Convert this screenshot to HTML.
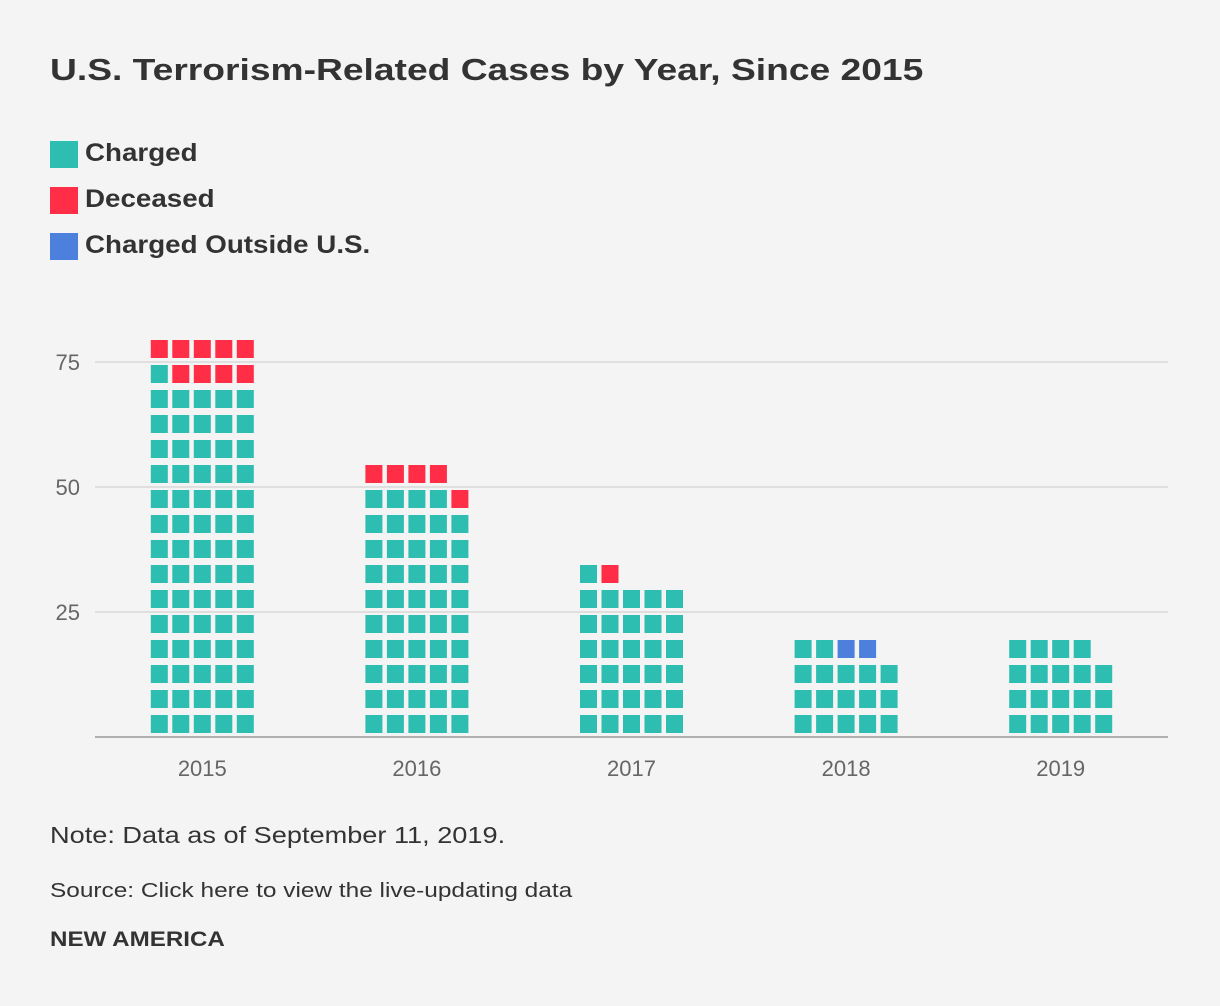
<!DOCTYPE html>
<html><head><meta charset="utf-8"><style>
body{margin:0;background:#f4f4f4;font-family:"Liberation Sans",sans-serif;}
#wrap{position:relative;width:1220px;height:1006px;background:#f4f4f4;}
.t{position:absolute;color:#333;white-space:nowrap;transform-origin:0 50%;}
</style></head><body>
<div id="wrap">
<div class="t" style="left:50px;top:52px;font-size:31px;font-weight:bold;transform:scaleX(1.2);">U.S. Terrorism-Related Cases by Year, Since 2015</div>
<div><div style="position:absolute;left:50px;top:141px;width:28px;height:27px;background:#2ebdb1"></div><div class="t" style="left:85px;top:139px;font-size:25px;font-weight:bold;transform:scaleX(1.11);">Charged</div></div>
<div><div style="position:absolute;left:50px;top:187px;width:28px;height:27px;background:#ff2d46"></div><div class="t" style="left:85px;top:185px;font-size:25px;font-weight:bold;transform:scaleX(1.11);">Deceased</div></div>
<div><div style="position:absolute;left:50px;top:233px;width:28px;height:27px;background:#4c80dc"></div><div class="t" style="left:85px;top:231px;font-size:25px;font-weight:bold;transform:scaleX(1.11);">Charged Outside U.S.</div></div>
<svg id="plot" width="1220" height="1006" style="position:absolute;left:0;top:0"></svg>
<div class="t" style="left:50px;top:822px;font-size:23px;transform:scaleX(1.18);">Note: Data as of September 11, 2019.</div>
<div class="t" style="left:50px;top:880px;font-size:20px;transform:scaleX(1.22);">Source: Click here to view the live-updating data</div>
<div class="t" style="left:50px;top:928px;font-size:21px;font-weight:bold;transform:scaleX(1.15);">NEW AMERICA</div>
</div>
<script>
const years=["2015","2016","2017","2018","2019"];
const charged=[71,49,31,17,19];
const deceased=[9,5,1,0,0];
const outside=[0,0,0,2,0];
const yTicks=[25,50,75];
const NS="http://www.w3.org/2000/svg";
const svg=document.getElementById('plot');
const x0=95,x1=1168,yBase=737,pxPerUnit=5;
const band=(x1-x0)/years.length;
const y=v=>yBase-v*pxPerUnit;
const cx=i=>x0+band*(i+0.5);
function mk(t,a){const e=document.createElementNS(NS,t);for(const k in a)e.setAttribute(k,a[k]);svg.appendChild(e);return e;}
yTicks.forEach(v=>{
 const l=mk('line',{x1:x0,x2:x1,y1:y(v),y2:y(v),stroke:'#d8d8d8','stroke-width':1.5});
 
 
 const t=mk('text',{x:80,y:y(v)+8,'text-anchor':'end','font-size':22,fill:'#666','font-family':'Liberation Sans, sans-serif'});
 t.textContent=v;
 
 
});
const colors=['#2ebdb1','#ff2d46','#4c80dc'];
years.forEach((yr,i)=>{
 const counts=[charged[i],deceased[i],outside[i]];
 let idx=0;
 const left=cx(i)-51.5;
 counts.forEach((n,s)=>{
  for(let k=0;k<n;k++,idx++){
   const row=Math.floor(idx/5),col=idx%5;
   const r=mk('rect',{x:left+col*21.5,y:y((row+1)*5)+3,width:17,height:18,fill:colors[s]});
   
   
  }
 });
 const t=mk('text',{x:cx(i),y:776,'text-anchor':'middle','font-size':22,fill:'#666','font-family':'Liberation Sans, sans-serif'});
 t.textContent=yr;
 
 
});
const ax=mk('line',{x1:x0,x2:x1,y1:yBase,y2:yBase,stroke:'#999','stroke-width':1.5});


</script>
</body></html>
